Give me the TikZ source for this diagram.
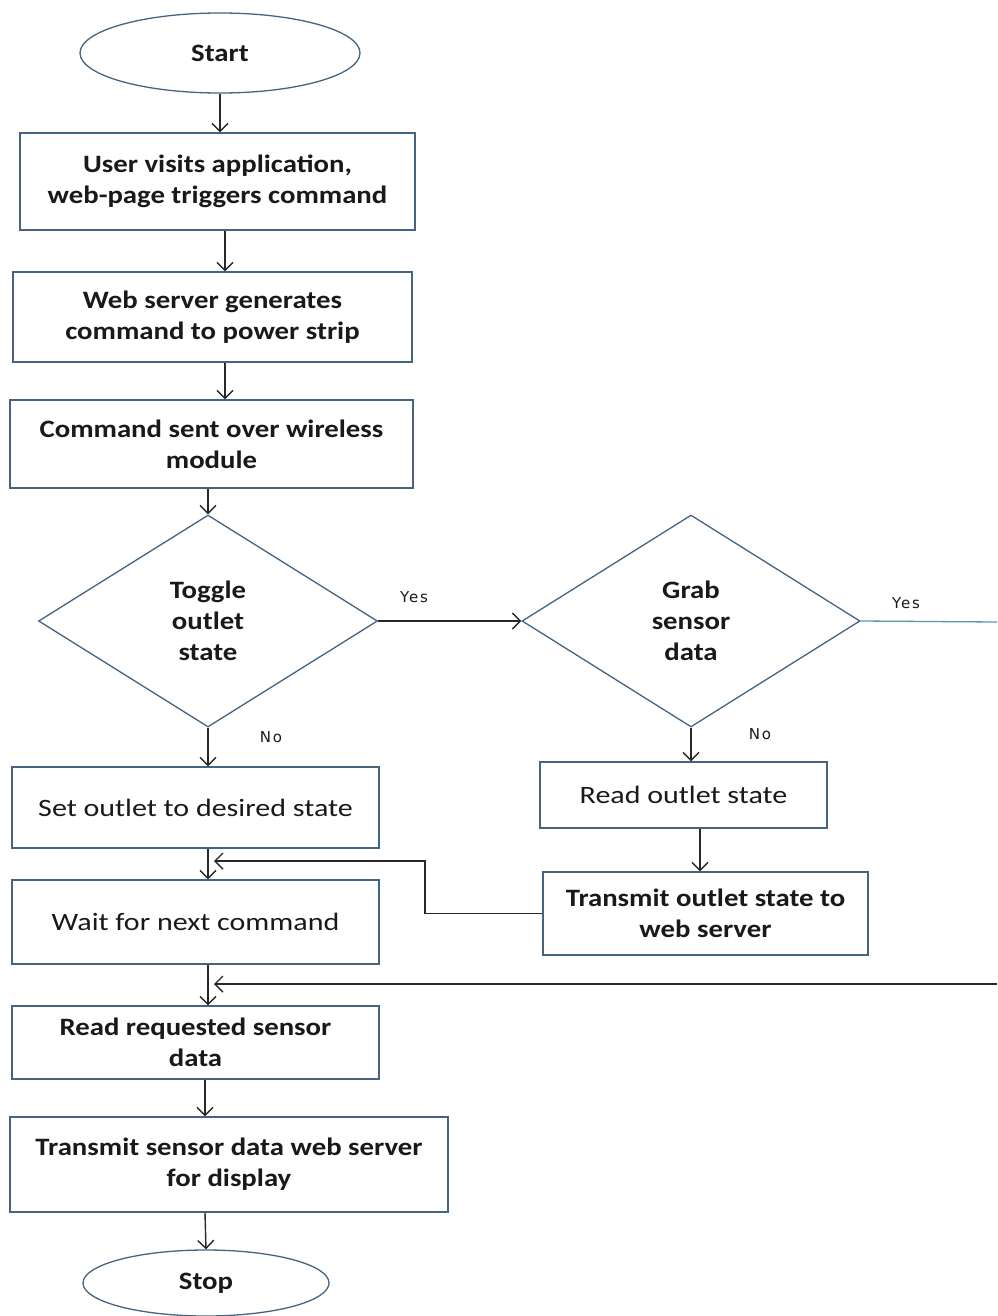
\documentclass[tikz,border=0pt]{standalone}
\usepackage{fontspec}
\setmainfont{Carlito}
\newfontfamily\widebold{Carlito}[FakeStretch=1.15]
\newfontfamily\wideplain{Carlito}[FakeStretch=1.2]
\newfontfamily\labelfont{DejaVu Sans}[LetterSpace=12]
\usetikzlibrary{shapes.geometric,arrows.meta}
\definecolor{edge}{RGB}{70,100,130}
\definecolor{ink}{RGB}{25,25,25}
\definecolor{wire}{RGB}{40,40,40}
\definecolor{yesline}{RGB}{90,150,180}
\begin{document}
\begin{tikzpicture}[x=1pt,y=-1pt,
  txt/.style={text=ink,align=center,font=\widebold\fontsize{25}{31}\selectfont\bfseries},
  txtlight/.style={text=ink,align=center,font=\wideplain\fontsize{25}{31}\selectfont},
  procbox/.style={draw=edge,line width=1.3pt,rectangle,inner sep=0pt},
  term/.style={draw=edge,line width=1.3pt,ellipse,inner sep=0pt,txt},
  decision/.style={draw=edge,line width=1.3pt,diamond,inner sep=0pt,txt},
  arr/.style={draw=wire,line width=1.4pt,-{Straight Barb[length=8pt,width=16pt,line width=1.4pt]}},
  lbl/.style={text=ink,font=\labelfont\fontsize{15}{17}\selectfont}]
\useasboundingbox[fill=white] (0,0) rectangle (997,1316);

% terminals
\node[term,minimum width=280pt,minimum height=80pt] (start) at (220,53) {Start};
\node[term,minimum width=246pt,minimum height=66pt] (stop) at (206,1283) {Stop};

% main column
\node[procbox,txt,minimum width=395pt,minimum height=97pt] (visit) at (217.5,181.5)
  {User visits application,\\web-page triggers command};
\node[procbox,txt,minimum width=399pt,minimum height=90pt] (gen) at (212.5,317)
  {Web server generates\\command to power strip};
\node[procbox,txt,minimum width=403pt,minimum height=88pt] (send) at (211.5,444)
  {Command sent over wireless\\module};
\node[decision,minimum width=339pt,minimum height=212pt] (toggle) at (208,621)
  {Toggle\\outlet\\state};
\node[procbox,txtlight,minimum width=367pt,minimum height=81pt] (setout) at (195.5,807.5)
  {Set outlet to desired state};
\node[procbox,txtlight,minimum width=367pt,minimum height=84pt] (wait) at (195.5,922)
  {Wait for next command};
\node[procbox,txt,minimum width=367pt,minimum height=73pt] (readreq) at (195.5,1042.5)
  {Read requested sensor\\data};
\node[procbox,txt,minimum width=438pt,minimum height=95pt] (txsensor) at (229,1164.5)
  {Transmit sensor data web server\\for display};

% right column
\node[decision,minimum width=338pt,minimum height=212pt] (grab) at (691,621)
  {Grab\\sensor\\data};
\node[procbox,txtlight,minimum width=287pt,minimum height=66pt] (readout) at (683.5,795)
  {Read outlet state};
\node[procbox,txt,minimum width=325pt,minimum height=83pt] (txout) at (705.5,913.5)
  {Transmit outlet state to\\web server};

% join points and the off-page leads
\coordinate (j1) at (214,861);
\coordinate (j2) at (214,984);
\coordinate (rim1) at (997,622);
\coordinate (rim2) at (997,984);

% vertical flow
\draw[arr] (start.south) -- (visit.north -| start.south);
\draw[arr] ([xshift=7.5pt]visit.south) -- ([xshift=12.5pt]gen.north);
\draw[arr] ([xshift=12.5pt]gen.south) -- ([xshift=13.5pt]send.north);
\draw[arr] (send.south -| toggle.north) -- (toggle.north);
\draw[arr] (toggle.south) -- (setout.north -| toggle.south);
\draw[arr] (setout.south -| toggle.south) -- (wait.north -| toggle.south);
\draw[arr] (wait.south -| toggle.south) -- (readreq.north -| toggle.south);
\draw[arr] ([xshift=9.5pt]readreq.south) -- ([xshift=-24pt]txsensor.north);
\draw[arr] ([xshift=-24pt]txsensor.south) -- (stop.north);
\draw[arr] (grab.south) -- (readout.north -| grab.south);
\draw[arr] ([xshift=16.5pt]readout.south) -- ([xshift=-5.5pt]txout.north);

% decisions
\draw[arr] (toggle.east) -- (grab.west);
\draw[draw=yesline,line width=1.3pt] (grab.east) -- (rim1);
\node[lbl] (yes1) at (414,597) {Yes};
\node[lbl] (yes2) at (906,603) {Yes};
\node[lbl] (no1) at (271,737) {No};
\node[lbl] (no2) at (760,734) {No};

% return paths
\draw[arr] (txout.west) -- (425,913.5) |- (j1);
\draw[arr] (rim2) -- (j2);
\end{tikzpicture}
\end{document}
